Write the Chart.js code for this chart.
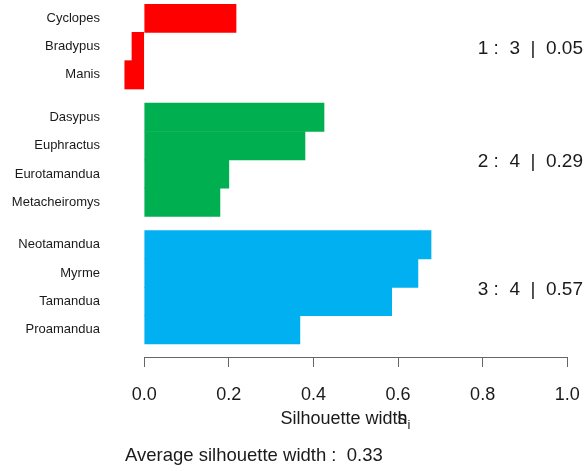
<!DOCTYPE html>
<html><head><meta charset="utf-8">
<script src="https://cdn.jsdelivr.net/npm/chart.js@4"></script>
<style>html,body{margin:0;padding:0;background:#fff}#wrap{width:585px;height:471px;position:relative}</style>
</head><body><div id="wrap"><canvas id="c" width="585" height="471"></canvas></div>
<script>
const names = ['Cyclopes','Bradypus','Manis','Dasypus','Euphractus','Eurotamandua','Metacheiromys','Neotamandua','Myrme','Tamandua','Proamandua'];
const clusterOf = [1,1,1,2,2,2,2,3,3,3,3];
const widths = [0.217,-0.029,-0.046,0.425,0.380,0.200,0.179,0.678,0.647,0.585,0.368];
const clusterIds = [1,2,3];
const clusterSizes = [3,4,4];
const clusterAvg = ['0.05','0.29','0.57'];
const clusterColors = ['#FF0000','#00B050','#00B0F0'];
const xTicks = [0,0.2,0.4,0.6,0.8,1.0];
const avgWidth = '0.33';

const FONT = '"Liberation Sans", Arial, Helvetica, sans-serif';
const positions = names.map((n,i)=> i + 0.5 + 0.5*clusterIds.indexOf(clusterOf[i]));
const clusterCenters = clusterIds.map(c=>{
  const p = positions.filter((v,i)=>clusterOf[i]===c);
  return p.reduce((a,b)=>a+b,0)/p.length;
});
const data = widths.map((w,i)=>({x:w, y:positions[i]}));
const colors = clusterOf.map(c=>clusterColors[clusterIds.indexOf(c)]);

const extras = {
  id:'extras',
  afterDraw(chart){
    const {ctx, chartArea, scales:{x, y}} = chart;
    ctx.save();
    ctx.strokeStyle = '#666'; ctx.lineWidth = 1;
    ctx.beginPath();
    const ay = Math.round(chartArea.bottom)+0.5;
    ctx.moveTo(x.getPixelForValue(xTicks[0]), ay);
    ctx.lineTo(x.getPixelForValue(xTicks[xTicks.length-1]), ay);
    ctx.stroke();
    ctx.fillStyle = '#1a1a1a';
    ctx.font = '19px ' + FONT;
    ctx.textAlign = 'right'; ctx.textBaseline = 'middle';
    clusterIds.forEach((c,k)=>{
      const t = c + ' :  ' + clusterSizes[k] + '  |  ' + clusterAvg[k];
      ctx.fillText(t, chartArea.right - 2, y.getPixelForValue(clusterCenters[k]) + 2);
    });
    ctx.font = '18px ' + FONT;
    ctx.textAlign = 'left';
    const main = 'Silhouette width';
    const wMain = ctx.measureText(main).width;
    const cx = (chartArea.left + chartArea.right)/2;
    const sx = cx - wMain/2 - 2;
    const ty = chartArea.bottom + 62;
    ctx.fillText(main, sx, ty);
    const wPre = ctx.measureText('Silhouette widt').width;
    ctx.fillText('s', sx + wPre, ty);
    const wS = ctx.measureText('s').width;
    ctx.font = '13px ' + FONT;
    ctx.fillText('i', sx + wPre + wS + 1, ty + 6);
    ctx.font = '18.5px ' + FONT;
    ctx.fillText('Average silhouette width :  ' + avgWidth, chartArea.left + 18, chartArea.bottom + 99);
    ctx.restore();
  }
};

new Chart(document.getElementById('c'), {
  type:'bar',
  data:{ datasets:[{ data, backgroundColor: colors, borderWidth:0, barPercentage:1, categoryPercentage:1 }]},
  options:{
    indexAxis:'y', responsive:false, animation:false,
    layout:{padding:{top:4,left:0,right:0,bottom:0}},
    plugins:{legend:{display:false}, tooltip:{enabled:false}},
    scales:{
      x:{ type:'linear', min:-0.088, max:1.042,
        afterBuildTicks(s){ s.ticks = xTicks.map(v=>({value:v})); },
        afterFit(s){ s.height = 114; s.paddingLeft = 0; s.paddingRight = 0; s.paddingTop = 0; s.paddingBottom = 0; },
        ticks:{ callback:v=>Number(v).toFixed(1), font:{size:18, family:FONT}, color:'#1a1a1a', padding:17, maxRotation:0, autoSkip:false },
        grid:{ drawOnChartArea:false, drawTicks:true, tickLength:10, color:'#666' },
        border:{ display:false }
      },
      y:{ type:'linear', min:0, max:12.46, reverse:true, offset:false,
        afterBuildTicks(s){ s.ticks = positions.map(v=>({value:v})); },
        afterFit(s){ s.width = 107; s.paddingLeft = 0; s.paddingRight = 0; s.paddingTop = 0; s.paddingBottom = 0; },
        ticks:{ callback:v=>names[positions.indexOf(v)], font:{size:13, family:FONT}, color:'#1a1a1a', padding:7, autoSkip:false },
        grid:{ display:false, drawTicks:false },
        border:{ display:false }
      }
    }
  },
  plugins:[extras]
});
</script></body></html>
